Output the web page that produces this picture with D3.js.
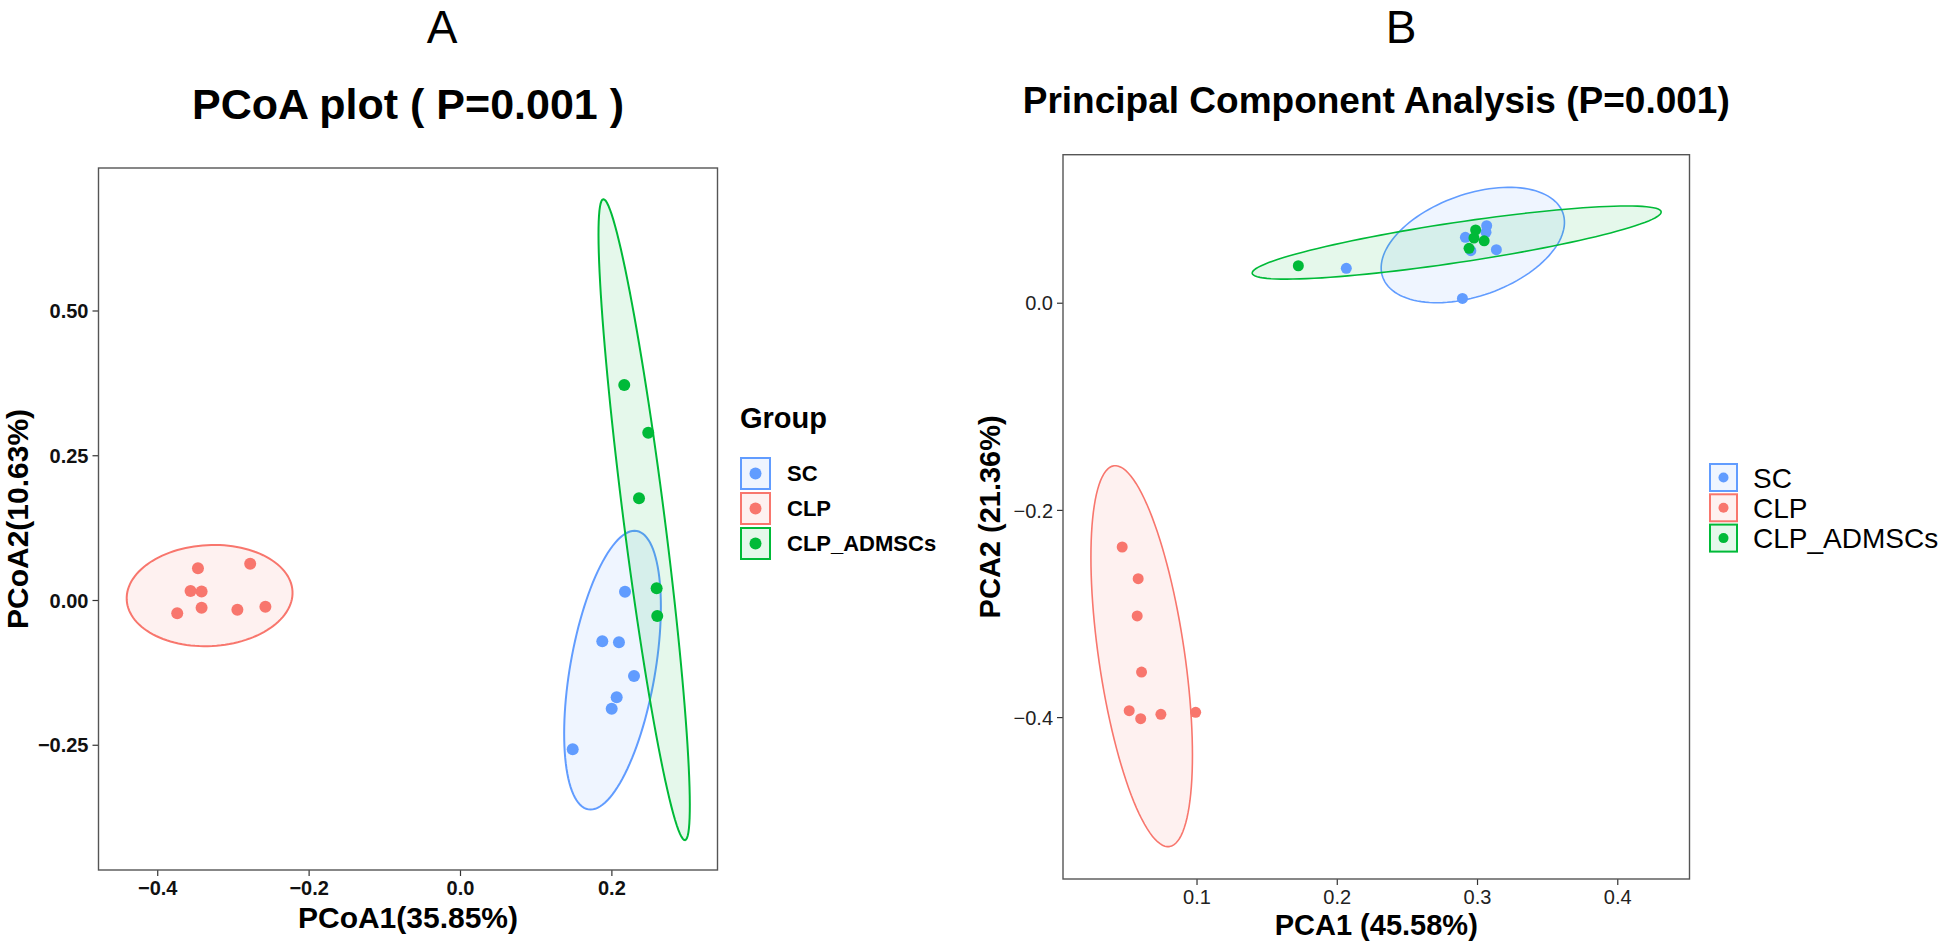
<!DOCTYPE html>
<html>
<head>
<meta charset="utf-8">
<script src="https://cdn.jsdelivr.net/npm/d3@7"></script>
<style>
  body { margin: 0; background: #fff; }
  svg { display: block; font-family: "Liberation Sans", Arial, sans-serif; }
</style>
</head>
<body>
<svg id="chart" width="1946" height="944"></svg>
<script>
// groups and colours (ggplot defaults)
const groups = ["SC", "CLP", "CLP_ADMSCs"];
const groupColors = ["#619CFF", "#F8766D", "#00BA38"];

// panel A: PCoA scores [PCoA1, PCoA2]
const pcoaSC = [[0.2180, 0.0143], [0.1880, -0.0713], [0.2100, -0.0731], [0.2299, -0.1313],
  [0.2070, -0.1680], [0.2004, -0.1877], [0.1489, -0.2579]];
const pcoaCLP = [[-0.3462, 0.0549], [-0.2772, 0.0627], [-0.3560, 0.0155], [-0.3414, 0.0147],
  [-0.3414, -0.0133], [-0.3736, -0.0230], [-0.2941, -0.0168], [-0.2571, -0.0116]];
const pcoaADMSC = [[0.2170, 0.3713], [0.2487, 0.2889], [0.2365, 0.1756], [0.2598, 0.0202], [0.2606, -0.0276]];

// panel B: PCA scores [PCA1, PCA2]
const pcaSC = [[0.2068, 0.0332], [0.2896, 0.0042], [0.3138, 0.0512], [0.3069, 0.0743],
  [0.3064, 0.0680], [0.2917, 0.0631], [0.2956, 0.0502]];
const pcaCLP = [[0.0470, -0.2358], [0.0584, -0.2664], [0.0577, -0.3024], [0.0608, -0.3565],
  [0.0520, -0.3938], [0.0602, -0.4015], [0.0746, -0.3973], [0.0994, -0.3954]];
const pcaADMSC = [[0.1726, 0.0357], [0.2990, 0.0702], [0.2978, 0.0625], [0.3051, 0.0598], [0.2943, 0.0525]];

// confidence ellipses: centre x, centre y, semi-axis 1 (dx, dy), semi-axis 2 (dx, dy), data units
const pcoaEllipses = [
  [0.2015, -0.1212, 0.0320, 0.2404, 0.0553, -0.0126],
  [-0.3308, 0.0076, 0.1095, 0.0075, 0.0035, -0.0871],
  [0.2433, 0.1387, -0.0540, 0.5534, 0.0269, 0.0045]
];
const pcaEllipses = [
  [0.2970, 0.0557, 0.0642, 0.0311, 0.0122, -0.0462],
  [0.0609, -0.3412, 0.0198, -0.1838, -0.0303, -0.0060],
  [0.2855, 0.0581, 0.1458, 0.0297, 0.0021, -0.0191]
];

// tick values
const pcoaXTicks = [-0.4, -0.2, 0.0, 0.2];
const pcoaYTicks = [-0.25, 0.00, 0.25, 0.50];
const pcaXTicks = [0.1, 0.2, 0.3, 0.4];
const pcaYTicks = [-0.4, -0.2, 0.0];

const svg = d3.select("#chart");

function drawPanel(p) {
  const x = d3.scaleLinear().domain(p.xDomain).range([p.left, p.right]);
  const y = d3.scaleLinear().domain(p.yDomain).range([p.bottom, p.top]);
  const g = svg.append("g");

  // letter + title
  g.append("text")
    .attr("x", p.letterX).attr("y", 43)
    .attr("text-anchor", "middle")
    .attr("font-size", 46)
    .text(p.letter);
  g.append("text")
    .attr("x", (p.left + p.right) / 2).attr("y", p.titleY)
    .attr("text-anchor", "middle")
    .attr("font-size", p.titleSize)
    .attr("font-weight", "bold")
    .text(p.title);

  // axes
  const xAxis = g.append("g")
    .attr("transform", `translate(0,${p.bottom})`)
    .call(d3.axisBottom(x).tickValues(p.xTicks).tickSize(6).tickPadding(5).tickFormat(d3.format(p.xFmt)));
  const yAxis = g.append("g")
    .attr("transform", `translate(${p.left},0)`)
    .call(d3.axisLeft(y).tickValues(p.yTicks).tickSize(6).tickPadding(4).tickFormat(d3.format(p.yFmt)));
  [xAxis, yAxis].forEach(a => {
    a.select(".domain").remove();
    a.selectAll(".tick line").attr("stroke", "#333").attr("stroke-width", 1.2);
    a.selectAll(".tick text")
      .attr("font-family", "Liberation Sans, Arial, sans-serif")
      .attr("font-size", p.tickSize)
      .attr("font-weight", p.tickWeight)
      .attr("fill", p.tickColor);
  });
  yAxis.selectAll(".tick text").attr("dy", "0.36em");

  // axis titles
  g.append("text")
    .attr("x", (p.left + p.right) / 2).attr("y", p.xTitleY)
    .attr("text-anchor", "middle")
    .attr("font-size", p.axisTitleSize)
    .attr("font-weight", "bold")
    .text(p.xTitle);
  g.append("text")
    .attr("transform", `translate(${p.yTitleX},${(p.top + p.bottom) / 2}) rotate(-90)`)
    .attr("text-anchor", "middle")
    .attr("font-size", p.axisTitleSize)
    .attr("font-weight", "bold")
    .text(p.yTitle);

  // ellipses
  const line = d3.line().x(d => x(d[0])).y(d => y(d[1])).curve(d3.curveLinearClosed);
  p.ellipses.forEach((e, i) => {
    const pts = d3.range(120).map(k => {
      const t = 2 * Math.PI * k / 120;
      return [e[0] + Math.cos(t) * e[2] + Math.sin(t) * e[4],
              e[1] + Math.cos(t) * e[3] + Math.sin(t) * e[5]];
    });
    g.append("path")
      .attr("d", line(pts))
      .attr("fill", groupColors[i]).attr("fill-opacity", 0.1)
      .attr("stroke", groupColors[i]).attr("stroke-width", p.ellipseWidth);
  });

  // points
  p.series.forEach((s, i) => {
    g.append("g").selectAll("circle").data(s).join("circle")
      .attr("cx", d => x(d[0])).attr("cy", d => y(d[1]))
      .attr("r", p.pointR)
      .attr("fill", groupColors[i]);
  });

  // panel border
  g.append("rect")
    .attr("x", p.left).attr("y", p.top)
    .attr("width", p.right - p.left).attr("height", p.bottom - p.top)
    .attr("fill", "none").attr("stroke", "#555").attr("stroke-width", 1.4);

  // legend
  const lg = g.append("g");
  if (p.legendTitle) {
    lg.append("text")
      .attr("x", p.legendX).attr("y", p.legendTitleY)
      .attr("font-size", 29).attr("font-weight", "bold")
      .text(p.legendTitle);
  }
  groups.forEach((name, i) => {
    const top = p.legendY + i * p.keyStep;
    lg.append("rect")
      .attr("x", p.legendX + 1).attr("y", top + 1)
      .attr("width", p.keyW - 2).attr("height", p.keyH - 2)
      .attr("fill", groupColors[i]).attr("fill-opacity", 0.1)
      .attr("stroke", groupColors[i]).attr("stroke-width", 2);
    lg.append("circle")
      .attr("cx", p.legendX + p.keyW / 2).attr("cy", top + p.keyH / 2)
      .attr("r", p.keyDotR).attr("fill", groupColors[i]);
    lg.append("text")
      .attr("x", p.legendX + p.keyW + p.labelGap).attr("y", top + p.keyH / 2)
      .attr("dy", "0.36em")
      .attr("font-size", p.legendSize).attr("font-weight", p.legendWeight)
      .text(name);
  });
}

drawPanel({
  letter: "A", letterX: 442,
  title: "PCoA plot ( P=0.001 )", titleY: 119, titleSize: 43,
  left: 98.5, right: 717.5, top: 168, bottom: 870,
  xDomain: [-0.4776, 0.3402], yDomain: [-0.4663, 0.7461],
  xTicks: pcoaXTicks, yTicks: pcoaYTicks, xFmt: ".1f", yFmt: ".2f",
  tickSize: 20, tickWeight: "bold", tickColor: "#111",
  xTitle: "PCoA1(35.85%)", yTitle: "PCoA2(10.63%)",
  xTitleY: 928, yTitleX: 28, axisTitleSize: 30,
  ellipses: pcoaEllipses, ellipseWidth: 2,
  series: [pcoaSC, pcoaCLP, pcoaADMSC], pointR: 6,
  legendTitle: "Group", legendTitleY: 428,
  legendX: 740, legendY: 457, keyStep: 35, keyW: 31, keyH: 33, keyDotR: 6,
  labelGap: 16, legendSize: 22, legendWeight: "bold"
});

drawPanel({
  letter: "B", letterX: 1401,
  title: "Principal Component Analysis (P=0.001)", titleY: 113, titleSize: 37,
  left: 1063, right: 1689.5, top: 154.7, bottom: 879,
  xDomain: [0.0048, 0.4515], yDomain: [-0.5563, 0.1429],
  xTicks: pcaXTicks, yTicks: pcaYTicks, xFmt: ".1f", yFmt: ".1f",
  tickSize: 20, tickWeight: "normal", tickColor: "#222",
  xTitle: "PCA1 (45.58%)", yTitle: "PCA2 (21.36%)",
  xTitleY: 935, yTitleX: 1000, axisTitleSize: 29,
  ellipses: pcaEllipses, ellipseWidth: 1.6,
  series: [pcaSC, pcaCLP, pcaADMSC], pointR: 5.5,
  legendTitle: null,
  legendX: 1709, legendY: 463, keyStep: 30.3, keyW: 29, keyH: 29, keyDotR: 5,
  labelGap: 15, legendSize: 28, legendWeight: "normal"
});
</script>
</body>
</html>
